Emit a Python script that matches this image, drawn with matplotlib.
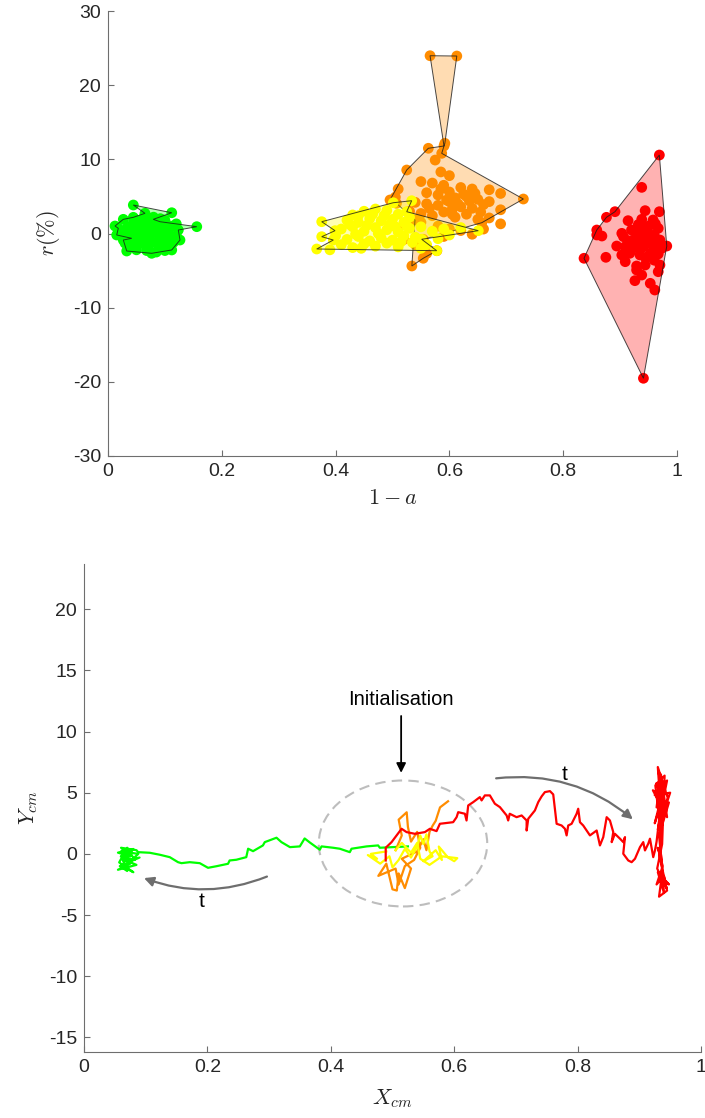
import matplotlib
matplotlib.use("Agg")
import matplotlib.pyplot as plt
from matplotlib.patches import Polygon, Ellipse, FancyArrowPatch
from matplotlib.colors import to_rgba

plt.rcParams['font.family'] = ['Liberation Sans', 'DejaVu Sans']
plt.rcParams['mathtext.fontset'] = 'cm'
plt.rcParams['axes.unicode_minus'] = False

# ---------------- top panel data ----------------
green_c = (0.0, 1.0, 0.0)
yellow_c = (1.0, 1.0, 0.0)
orange_c = (1.0, 0.55, 0.0)
red_c = (1.0, 0.0, 0.0)

green_hull_x = [0.0445, 0.112, 0.0796, 0.0914, 0.156, 0.1236, 0.1265, 0.112, 0.0768, 0.0329,
                0.0269, 0.0417, 0.0153, 0.0181, 0.0123, 0.0269, 0.0445, 0.065]
green_hull_y = [3.84, 2.80, 1.91, 1.59, 0.92, 0.47, -0.88, -2.22, -2.67, -2.36,
                -0.88, -0.65, -0.20, 0.70, 1.01, 1.91, 2.18, 2.72]
green_pts_x = [0.05, 0.07, 0.09, 0.06, 0.08, 0.10, 0.04, 0.05, 0.07, 0.09, 0.11, 0.03, 0.06, 0.08,
               0.10, 0.04, 0.07, 0.09, 0.11, 0.05, 0.085, 0.10, 0.06, 0.08, 0.10, 0.12, 0.035, 0.065,
               0.095, 0.115, 0.055, 0.075, 0.045, 0.105, 0.025, 0.09, 0.065, 0.085, 0.12, 0.11, 0.03,
               0.055, 0.075, 0.045, 0.068, 0.092]
green_pts_y = [1.2, 1.5, 1.0, 0.5, 0.3, 0.6, 0.2, -0.3, -0.5, -0.2, -0.4, -0.8, -1.0, -1.2,
               -1.0, -1.6, -1.8, -2.0, -1.8, -2.2, -2.5, -2.3, 1.9, 2.2, 1.8, 1.3, 0.9, 0.0,
               0.1, -1.2, -1.4, 0.9, -0.6, 0.3, 0.3, -1.5, 2.5, 1.4, -0.3, 1.0, -1.3,
               0.8, -0.1, 1.6, -2.3, 2.0]

yellow_hull_x = [0.3756, 0.5014, 0.5337, 0.525, 0.6508, 0.5513, 0.5777, 0.3668, 0.396, 0.3756, 0.399]
yellow_hull_y = [1.59, 4.15, 4.42, 2.94, 0.38, -0.78, -2.32, -2.09, -0.88, -0.43, 0.38]
yellow_pts_x = [0.43, 0.45, 0.47, 0.49, 0.51, 0.42, 0.44, 0.46, 0.48, 0.50, 0.52, 0.41, 0.43, 0.45,
                0.47, 0.49, 0.51, 0.53, 0.40, 0.42, 0.44, 0.46, 0.48, 0.50, 0.52, 0.54, 0.41, 0.43,
                0.45, 0.47, 0.49, 0.51, 0.55, 0.57, 0.59, 0.58, 0.56, 0.60, 0.44, 0.39, 0.53, 0.62, 0.55,
                0.455, 0.475, 0.495, 0.435, 0.515, 0.465, 0.485, 0.505, 0.425, 0.535, 0.445, 0.525]
yellow_pts_y = [2.5, 3.0, 3.3, 3.1, 2.6, 1.8, 1.5, 2.0, 1.7, 1.9, 1.5, 0.6, 0.9, 0.3,
                0.8, 0.5, 0.2, 0.7, -0.3, -0.8, -0.4, -1.0, -0.6, -0.9, -0.3, -0.5, -1.5, -1.9,
                -1.4, -1.7, -1.3, -1.8, 0.9, 0.3, 0.6, -0.7, -1.5, -0.2, 2.4, -2.2, 2.2, 0.8, -2.0,
                1.1, 0.0, 1.2, -0.1, -1.1, 2.6, 2.4, 0.9, 1.2, -1.2, -2.0, 1.0]

orange_hull_x = [0.566, 0.613, 0.592, 0.5865, 0.730, 0.657, 0.554, 0.578, 0.554, 0.534,
                 0.5395, 0.507, 0.4956, 0.525, 0.563, 0.5905]
orange_hull_y = [23.97, 23.93, 12.16, 10.81, 4.65, 1.46, -0.78, -2.32, -3.34, -4.38,
                 1.82, 4.07, 4.52, 8.56, 11.49, 11.8]
orange_pts_x = [0.585, 0.60, 0.55, 0.57, 0.59, 0.62, 0.64, 0.67, 0.69, 0.56, 0.58, 0.60, 0.61, 0.63,
                0.65, 0.67, 0.54, 0.56, 0.58, 0.60, 0.62, 0.64, 0.66, 0.69, 0.53, 0.55, 0.57, 0.59,
                0.61, 0.63, 0.65, 0.67, 0.52, 0.55, 0.58, 0.60, 0.62, 0.64, 0.52, 0.54, 0.56, 0.505,
                0.51, 0.575, 0.69, 0.66, 0.59,
                0.595, 0.615, 0.635, 0.605, 0.625, 0.645, 0.585, 0.605, 0.565, 0.655]
orange_pts_y = [8.3, 7.8, 7.0, 6.8, 6.5, 6.2, 6.0, 5.9, 5.4, 5.5, 5.2, 5.6, 4.8, 5.0,
                4.6, 4.3, 4.2, 4.0, 3.8, 4.3, 3.6, 3.4, 3.9, 3.2, 3.0, 2.7, 2.4, 2.9,
                2.2, 2.6, 1.9, 2.1, 1.2, 1.5, 1.0, 0.6, 0.4, -0.1, -0.8, -1.5, -2.7, 4.9,
                6.0, 9.9, 1.3, 0.6, -0.4,
                4.5, 4.0, 4.4, 3.3, 5.3, 5.4, 6.0, 2.6, 3.4, 2.9]

red_hull_x = [0.969, 0.982, 0.941, 0.8366, 0.859, 0.876, 0.891]
red_hull_y = [10.58, -1.69, -19.52, -3.34, 0.47, 2.18, 2.94]
red_pts_x = [0.938, 0.914, 0.944, 0.969, 0.938, 0.958, 0.903, 0.920, 0.935, 0.950, 0.967, 0.906,
             0.923, 0.938, 0.953, 0.970, 0.894, 0.909, 0.926, 0.941, 0.958, 0.973, 0.903, 0.917,
             0.935, 0.953, 0.967, 0.875, 0.909, 0.929, 0.944, 0.970, 0.929, 0.938, 0.967, 0.926,
             0.953, 0.961, 0.868, 0.859, 0.945, 0.950, 0.960, 0.930, 0.945, 0.960, 0.928, 0.962,
             0.935, 0.915, 0.948, 0.942, 0.955, 0.932]
red_pts_y = [6.22, 1.73, 3.08, 2.94, 1.91, 1.82, 0.02, 0.47, 0.83, 1.01, 0.70, -0.43,
             -0.88, -0.43, -0.65, -0.88, -1.69, -1.78, -1.87, -1.78, -1.69, -2.00, -2.90, -2.67,
             -2.90, -2.67, -2.76, -3.21, -3.80, -4.38, -4.25, -4.25, -4.92, -5.60, -5.15, -6.36,
             -6.72, -7.62, -0.34, -0.20, 0.2, -1.2, -0.2, -1.3, -3.3, -3.6, 0.3, 1.3,
             -2.2, -1.0, 0.6, -0.9, -1.4, 1.2]

top_xticks = [0, 0.2, 0.4, 0.6, 0.8, 1]
top_xticklabels = ['0', '0.2', '0.4', '0.6', '0.8', '1']
top_yticks = [-30, -20, -10, 0, 10, 20, 30]

# ---------------- bottom panel data ----------------
green_path_x = [0.525, 0.4795, 0.4767, 0.458, 0.4336, 0.4308, 0.4146, 0.4038, 0.385, 0.3822,
                0.366, 0.3576, 0.3498, 0.3338, 0.320, 0.312, 0.293, 0.290, 0.274, 0.266, 0.263,
                0.247, 0.236, 0.2335, 0.2147, 0.201, 0.1876, 0.1714, 0.158, 0.1524, 0.139, 0.1227,
                0.1065, 0.0876,
                0.085, 0.06, 0.075, 0.055, 0.08, 0.065, 0.09, 0.058, 0.07, 0.062, 0.085, 0.055,
                0.075, 0.06, 0.088, 0.065, 0.08, 0.057, 0.07, 0.082, 0.06]
green_path_y = [0.61, 0.50, 0.69, 0.61, 0.42, 0.14, 0.42, 0.50, 0.61, 0.34,
                0.93, 1.26, 0.61, 0.55, 0.96, 1.32, 0.96, 0.69, 0.22, 0.42, -0.27,
                -0.48, -0.54, -0.81, -1.01, -1.14, -0.76, -0.68, -0.76, -0.68, -0.27, -0.07,
                0.09, 0.14,
                0.3, 0.5, -0.2, 0.1, 0.4, -0.6, -0.3, -1.0, -1.4, -0.4, -0.9, -1.3,
                -0.8, 0.2, 0.0, -1.1, -1.5, -0.7, 0.5, -0.5, -0.2]

red_path_x = [0.489, 0.489, 0.4985, 0.5147, 0.5228, 0.5362, 0.5525, 0.5606, 0.5714, 0.5768,
              0.5983, 0.6039, 0.6065, 0.6173, 0.620, 0.6227, 0.6308, 0.6416, 0.6444, 0.6497,
              0.6578, 0.6659, 0.6741, 0.685, 0.6875, 0.690, 0.7011, 0.7093, 0.7174, 0.7174,
              0.720, 0.7308, 0.7362, 0.7417, 0.747, 0.7552, 0.7605, 0.766, 0.7741, 0.7795,
              0.7822, 0.7848, 0.7903, 0.7984, 0.801, 0.8038, 0.8091, 0.82, 0.8309, 0.8362,
              0.8416, 0.8471, 0.8524, 0.8578, 0.8552, 0.8605, 0.8687, 0.874, 0.8768, 0.874,
              0.8821, 0.8876, 0.893, 0.9011, 0.9064, 0.9092, 0.9145, 0.9173, 0.9226, 0.9254,
              0.928, 0.935, 0.925, 0.94, 0.93, 0.935, 0.945, 0.925, 0.95, 0.93, 0.94, 0.922,
              0.945, 0.935, 0.928, 0.948, 0.932, 0.936, 0.93, 0.938, 0.928, 0.94, 0.945, 0.932,
              0.936, 0.948, 0.93, 0.94, 0.935, 0.933, 0.94,
              0.928, 0.942, 0.931, 0.946, 0.934, 0.926, 0.941, 0.937, 0.929, 0.944, 0.933, 0.939]
red_path_y = [-0.54, 0.50, 0.96, 2.05, 1.78, 1.64, 1.78, 2.05, 1.86, 2.46,
              2.59, 3.00, 3.41, 3.28, 2.73, 3.96, 4.23, 4.64, 4.37, 4.78,
              4.78, 4.10, 3.82, 3.14, 2.73, 3.28, 3.00, 3.14, 2.73, 1.91,
              2.87, 3.55, 4.23, 4.70, 5.05, 5.13, 4.86, 2.46, 2.32, 2.05,
              1.51, 2.32, 2.46, 3.28, 3.69, 2.59, 2.32, 1.51, 1.91, 0.69,
              1.37, 3.00, 2.73, 1.78, 0.96, 1.64, 1.24, 0.96, 1.37, 0.01,
              -0.54, -0.68, -0.40, 0.55, 0.96, 0.28, 0.83, 1.24, -0.27, 0.28,
              1.0, 4.0, 2.5, 5.5, 7.1, 3.5, 6.0, 4.8, 5.0, 2.0, 4.5, 5.2,
              3.0, 6.5, 3.8, 4.2, 1.5, -0.5, 0.5, -1.0, -2.5, -1.8, -3.0, -3.5,
              -2.0, -2.5, -1.5, -3.2, 0.0, 2.8, 4.0,
              5.8, 3.2, 6.8, 4.6, 2.2, 5.6, 6.4, 0.8, -1.2, -2.8, -0.2, 4.4]

orange_path_x = [0.505, 0.515, 0.51, 0.523, 0.525, 0.53, 0.54, 0.545, 0.535, 0.52, 0.51, 0.505,
                 0.477, 0.49, 0.5, 0.507, 0.51, 0.52, 0.525, 0.53, 0.515, 0.54, 0.55, 0.555,
                 0.56, 0.565, 0.57, 0.577, 0.59]
orange_path_y = [0.3, 1.5, 2.8, 3.4, 2.2, 1.0, 1.8, 0.5, -0.5, -1.0, -2.5, -1.2,
                 -1.8, -0.8, -2.9, -3.0, -1.6, -2.8, -2.0, -1.2, -0.4, 0.2, 1.2, 0.3,
                 1.8, 2.3, 2.7, 3.8, 4.3]

yellow_path_x = [0.49, 0.465, 0.475, 0.46, 0.48, 0.495, 0.5, 0.51, 0.52, 0.53, 0.54, 0.545,
                 0.55, 0.555, 0.56, 0.565, 0.55, 0.57, 0.58, 0.575, 0.59, 0.6, 0.605, 0.58,
                 0.56, 0.545, 0.54, 0.53, 0.515, 0.505]
yellow_path_y = [0.2, 0.0, -0.4, -0.1, -0.8, -0.2, -1.1, -0.5, 0.4, -0.3, 0.6, 1.5,
                 0.8, 1.6, 0.2, -0.2, -0.6, 0.3, -0.5, 0.6, -0.3, -0.6, -0.35, -0.2,
                 -0.9, -0.4, 0.9, 0.1, 0.9, 0.3]

bot_xticks = [0, 0.2, 0.4, 0.6, 0.8, 1]
bot_xticklabels = ['0', '0.2', '0.4', '0.6', '0.8', '1']
bot_yticks = [-15, -10, -5, 0, 5, 10, 15, 20]

init_center = (0.517, 0.85)
init_size = (0.273, 10.3)

# ---------------- figure ----------------
fig = plt.figure(figsize=(7.05, 11.18), dpi=100)
spine_c = '#6e6e6e'
text_c = '#262626'


def style(ax):
    for s in ['top', 'right']:
        ax.spines[s].set_visible(False)
    for s in ['left', 'bottom']:
        ax.spines[s].set_color(spine_c)
        ax.spines[s].set_linewidth(0.8)
    ax.tick_params(direction='in', length=4, width=0.8, color=spine_c,
                   labelcolor=text_c, labelsize=14, pad=5)


ax1 = fig.add_axes([108/705, 1-456/1118, 569/705, 445/1118])
style(ax1)
clusters = [
    (green_hull_x, green_hull_y, green_pts_x, green_pts_y, green_c),
    (orange_hull_x, orange_hull_y, orange_pts_x, orange_pts_y, orange_c),
    (yellow_hull_x, yellow_hull_y, yellow_pts_x, yellow_pts_y, yellow_c),
    (red_hull_x, red_hull_y, red_pts_x, red_pts_y, red_c),
]
z = 1
for hx, hy, px, py, c in clusters:
    ax1.add_patch(Polygon(list(zip(hx, hy)), closed=True, facecolor=to_rgba(c, 0.3),
                          edgecolor='none', zorder=z))
    ax1.scatter(list(px) + list(hx), list(py) + list(hy), s=60, color=c,
                edgecolors='none', zorder=z + 1)
    ax1.add_patch(Polygon(list(zip(hx, hy)), closed=True, facecolor='none',
                          edgecolor=(0.1, 0.1, 0.1, 0.8), linewidth=0.7, zorder=z + 2))
    z += 3
ax1.set_xlim(0, 1)
ax1.set_ylim(-30, 30)
ax1.set_xticks(top_xticks)
ax1.set_xticklabels(top_xticklabels)
ax1.set_yticks(top_yticks)
ax1.set_xlabel(r'$1-a$', fontsize=16, color=text_c, labelpad=6)
ax1.set_ylabel(r'$r(\%)$', fontsize=16, color=text_c, labelpad=8)

ax2 = fig.add_axes([84/705, 1-1052/1118, 617/705, 488/1118])
style(ax2)
lw = 1.6
ax2.plot(green_path_x, green_path_y, color=green_c, lw=lw, zorder=2)
ax2.plot(orange_path_x, orange_path_y, color=orange_c, lw=lw, zorder=3)
ax2.plot(yellow_path_x, yellow_path_y, color=yellow_c, lw=lw, zorder=4)
ax2.plot(red_path_x, red_path_y, color=red_c, lw=lw, zorder=5)
ax2.add_patch(Ellipse(init_center, init_size[0], init_size[1], facecolor='none',
                      edgecolor='#bdbdbd', linestyle=(0, (5, 3)), linewidth=1.5, zorder=1))
ax2.annotate('', xy=(0.514, 6.4), xytext=(0.514, 11.5),
             arrowprops=dict(arrowstyle='-|>', color='black', lw=1.3, mutation_scale=14))
ax2.text(0.514, 12.6, 'Initialisation', ha='center', va='center', fontsize=14.5, color='black')
ax2.add_patch(FancyArrowPatch((0.3007, -1.77), (0.093, -1.9), connectionstyle='arc3,rad=-0.2',
                              arrowstyle='-|>', mutation_scale=14, color='#6e6e6e', lw=1.6))
ax2.text(0.19, -3.9, 't', ha='center', va='center', fontsize=15, color='black')
ax2.add_patch(FancyArrowPatch((0.6635, 6.15), (0.893, 2.68), connectionstyle='arc3,rad=-0.22',
                              arrowstyle='-|>', mutation_scale=14, color='#6e6e6e', lw=1.6))
ax2.text(0.7795, 6.5, 't', ha='center', va='center', fontsize=15, color='black')
ax2.set_xlim(0, 1)
ax2.set_ylim(-16.2, 23.7)
ax2.set_xticks(bot_xticks)
ax2.set_xticklabels(bot_xticklabels)
ax2.set_yticks(bot_yticks)
ax2.set_xlabel(r'$X_{cm}$', fontsize=16, color=text_c, labelpad=8)
ax2.set_ylabel(r'$Y_{cm}$', fontsize=16, color=text_c, labelpad=6)

fig.savefig('out.png', dpi=100)
